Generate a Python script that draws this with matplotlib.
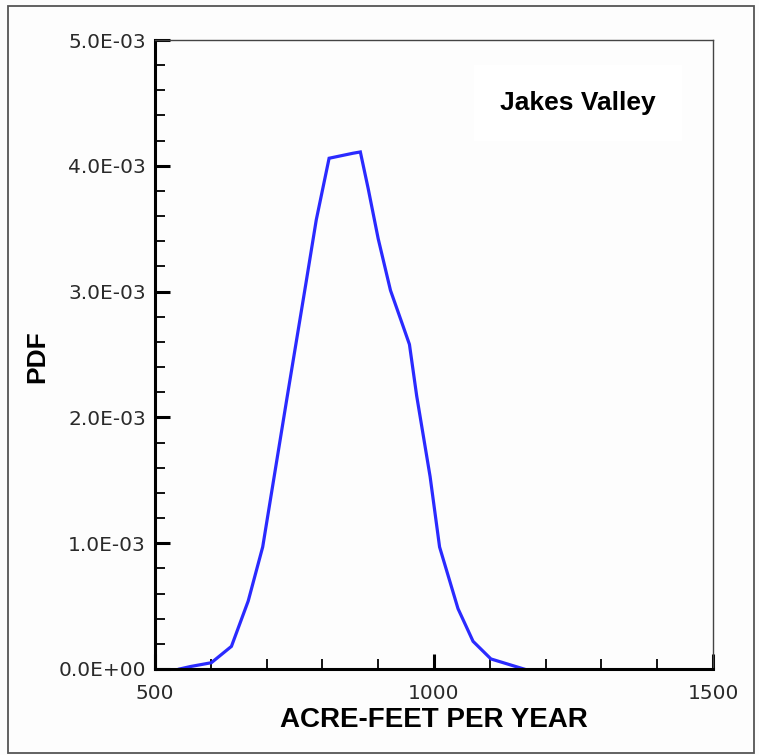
import matplotlib
matplotlib.use("Agg")
import matplotlib.pyplot as plt
from matplotlib.ticker import MultipleLocator, FuncFormatter
from matplotlib.patches import Rectangle

# datos (acre-pie por año, PDF)
acre_feet = [544, 564, 601, 637, 667, 693, 736, 771, 789, 812, 855, 868,
             882, 900, 922, 945, 956, 969, 993, 1010, 1043, 1070, 1102, 1161]
pdf_vals = [0.0, 0.02, 0.05, 0.18, 0.54, 0.97, 2.14, 3.08, 3.57, 4.06, 4.10, 4.11,
            3.82, 3.42, 3.01, 2.72, 2.58, 2.17, 1.53, 0.97, 0.48, 0.22, 0.08, 0.0]
pdf_vals = [v * 1e-3 for v in pdf_vals]

basin = "Jakes Valley"
x_label = "ACRE-FEET PER YEAR"
y_label = "PDF"

bg = "#fdfdfd"
fig = plt.figure(figsize=(7.59, 7.55), dpi=100, facecolor=bg)
ax = fig.add_axes([155 / 759, 1 - 669 / 755, (713 - 155) / 759, (669 - 40) / 755])
ax.set_facecolor(bg)

ax.plot(acre_feet, pdf_vals, color="#2a2aff", lw=2.3, solid_joinstyle="miter")

ax.set_xlim(500, 1500)
ax.set_ylim(0, 5e-3)
ax.xaxis.set_major_locator(MultipleLocator(500))
ax.xaxis.set_minor_locator(MultipleLocator(100))
ax.yaxis.set_major_locator(MultipleLocator(1e-3))
ax.yaxis.set_minor_locator(MultipleLocator(2e-4))
ax.yaxis.set_major_formatter(FuncFormatter(lambda v, p: f"{v:.1E}"))

ax.tick_params(which="major", direction="in", length=10.5, width=2.2,
               labelsize=14.5, labelcolor="#2a2a2a")
ax.tick_params(which="minor", direction="in", length=7, width=1.3)
ax.tick_params(axis="y", pad=6.5)
ax.tick_params(axis="x", pad=11)

for s in ["left", "bottom"]:
    ax.spines[s].set_linewidth(2.2)
for s in ["top", "right"]:
    ax.spines[s].set_linewidth(1.0)
    ax.spines[s].set_color("#444444")

ax.text(1258, 4.5e-3, basin, ha="center", va="center", fontsize=19,
        fontweight="bold", family="Liberation Sans",
        bbox=dict(boxstyle="square,pad=1.0", fc="white", ec="none"))

fig.text(434 / 759, 1 - 720 / 755, x_label, ha="center", va="center",
         fontsize=20, fontweight="bold", family="Liberation Sans")
fig.text(37 / 759, 1 - 357 / 755, y_label, ha="center", va="center",
         rotation=90, fontsize=19, fontweight="bold", family="Liberation Sans")

# marco exterior
fig.patches.append(Rectangle((8 / 759, 2 / 755), (754 - 8) / 759, (749 - 2) / 755,
                             transform=fig.transFigure, fill=False,
                             ec="#555555", lw=1.3))

fig.savefig("out.png", dpi=100, facecolor=bg)
